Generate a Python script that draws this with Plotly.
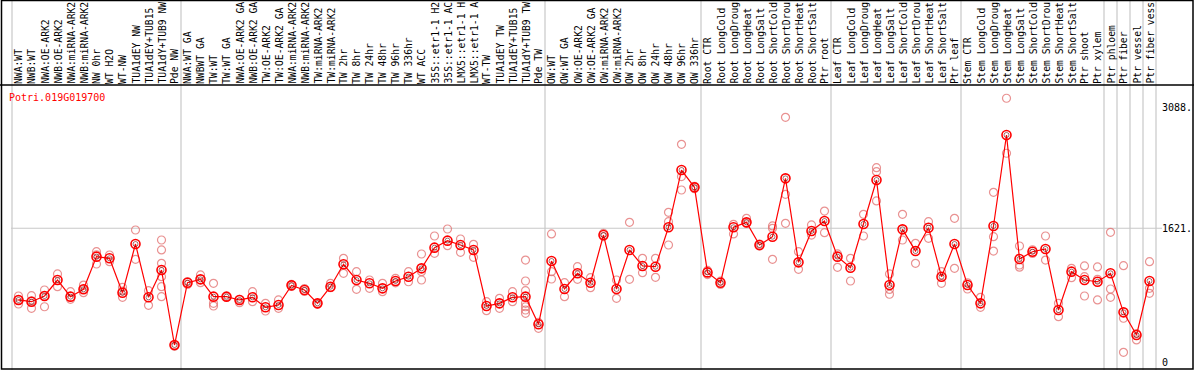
import plotly.graph_objects as go

title = "Potri.019G019700"

categories = [
    "NWA:WT", "NWB:WT", "NWA:OE-ARK2", "NWB:OE-ARK2", "NWA:miRNA-ARK2", "NWB:miRNA-ARK2",
    "NW 0hr", "WT H2O", "WT-NW", "TUA1dEY NW", "TUA1dEY+TUB15 NW", "TUA1dY+TUB9 NW", "Pde NW",
    "NWA:WT GA", "NWBWT GA", "TW:WT", "TW:WT GA", "NWA:OE-ARK2 GA", "NWB:OE-ARK2 GA",
    "TW:OE-ARK2", "TW:OE-ARK2 GA", "NWA:miRNA-ARK2 GA", "NWB:miRNA-ARK2 GA", "TW:miRNA-ARK2",
    "TW:miRNA-ARK2 GA", "TW 2hr", "TW 8hr", "TW 24hr", "TW 48hr", "TW 96hr", "TW 336hr",
    "WT ACC", "35S::etr1-1 H2O", "35S::etr1-1 ACC", "LMX5::etr1-1 H2O", "LMX5::etr1-1 ACC",
    "WT-TW", "TUA1dEY TW", "TUA1dEY+TUB15 TW", "TUA1dY+TUB9 TW", "Pde TW",
    "OW:WT", "OW:WT GA", "OW:OE-ARK2", "OW:OE-ARK2 GA", "OW:miRNA-ARK2", "OW:miRNA-ARK2 GA",
    "OW 2hr", "OW 8hr", "OW 24hr", "OW 48hr", "OW 96hr", "OW 336hr",
    "Root CTR", "Root LongCold", "Root LongDrought", "Root LongHeat", "Root LongSalt",
    "Root ShortCold", "Root ShortDrought", "Root ShortHeat", "Root ShortSalt", "Ptr root",
    "Leaf CTR", "Leaf LongCold", "Leaf LongDrought", "Leaf LongHeat", "Leaf LongSalt",
    "Leaf ShortCold", "Leaf ShortDrought", "Leaf ShortHeat", "Leaf ShortSalt", "Ptr leaf",
    "Stem CTR", "Stem LongCold", "Stem LongDrought", "Stem LongHeat", "Stem LongSalt",
    "Stem ShortCold", "Stem ShortDrought", "Stem ShortHeat", "Stem ShortSalt",
    "Ptr shoot", "Ptr xylem", "Ptr phloem", "Ptr fiber", "Ptr vessel", "Ptr fiber vessel",
]

means = [
    752, 731, 800, 994, 792, 881, 1277, 1257, 840, 1430, 784, 1115, 206,
    961, 1002, 792, 792, 752, 784, 663, 691, 929, 873, 711, 913, 1184, 994, 954, 893,
    982, 1034, 1135, 1386, 1471, 1418, 1358, 679, 711, 784, 792, 457,
    1224, 885, 1075, 961, 1539, 885, 1358, 1164, 1155, 1633, 2327, 2117,
    1086, 961, 1633, 1693, 1418, 1519, 2226, 1208, 1588, 1709,
    1277, 1143, 1673, 2206, 933, 1608, 1345, 1628, 1034, 1430,
    933, 711, 1649, 2752, 1249, 1337, 1370, 630, 1095, 994, 973, 1075, 602, 327, 982,
]

replicates = [
    [800, 703, 752], [804, 651, 740], [873, 670, 800], [1067, 913], [852, 760],
    [933, 840, 881], [1337, 1188, 1300], [1297, 1216], [905, 784, 860], [1600, 1245],
    [864, 687], [1479, 1358, 1196, 1034, 913, 792], [206, 190],
    [940, 975], [1055, 961], [954, 711, 679], [792, 792], [760, 719], [852, 731],
    [711, 618], [752, 651], [940, 915], [890, 855], [711, 700], [954, 900],
    [1257, 1075], [1095, 881], [994, 893], [954, 852], [1014, 960], [1095, 973],
    [1309, 994, 1095], [1527, 1317], [1612, 1410], [1491, 1329], [1426, 1269],
    [731, 622], [772, 651], [852, 731], [1236, 982, 864, 711, 670, 630, 590], [480, 408],
    [1552, 1095, 1006], [961, 792], [1155, 1002], [1022, 901], [1560, 1520], [994, 772],
    [1693, 1002], [1257, 1083], [1257, 1026], [1814, 1701, 1418], [2639, 2247, 2085],
    [2100, 2130],
    [1110, 1060], [980, 940], [1669, 1552], [1742, 1680], [1430, 1405],
    [1649, 1245, 1620], [2966, 2033, 1681], [1337, 1123], [1661, 1539], [1830, 1568],
    [1310, 1148], [1257, 982], [1790, 1527], [2356, 2307, 1952], [1067, 821, 880],
    [1790, 1479], [1438, 1196], [1701, 1499], [1095, 954], [1742, 1135],
    [960, 885], [784, 663], [2057, 1519, 1345], [3197, 2530], [1406, 1176, 1150],
    [1360, 1315], [1527, 1236], [711, 549], [1135, 1022],
    [1164, 1034, 800], [1152, 1002, 752], [1572, 885, 784], [1167, 530, 117],
    [345, 267], [1216, 893, 833],
]

group_bounds = [0, 13, 41, 53, 63, 73, 84, 85, 86, 87, 88]
y_ticks = [3088, 1621, 0]
y_tick_text = ["3088.", "1621.", "0"]

W, H = 1194, 370
FONT = "DejaVu Sans Mono"
LABEL_CHARS = 14  # the header strip only has room for this many characters
n = len(categories)
xs = list(range(n))

# axis ranges chosen so category i sits at pixel 18.5 + 13*i
x0_val = -18.5 / 13.0
x1_val = (W - 18.5) / 13.0
py_per_unit = 0.0825
y_zero_px = 362.0
y_lo = -(H - y_zero_px) / py_per_unit
y_hi = y_zero_px / py_per_unit

rx, ry = [], []
for i, reps in enumerate(replicates):
    for v in reps:
        rx.append(i)
        ry.append(v)

fig = go.Figure()
fig.add_trace(go.Scatter(
    x=rx, y=ry, mode="markers",
    marker=dict(symbol="circle-open", size=8, color="rgba(225,110,110,0.75)",
                line=dict(width=1.2)),
    hoverinfo="skip", showlegend=False,
))
fig.add_trace(go.Scatter(
    x=xs, y=means, mode="lines+markers",
    line=dict(color="#ff0000", width=1.2),
    marker=dict(symbol="circle-open", size=9, color="#ff0000", line=dict(width=1.6)),
    showlegend=False,
))
fig.add_trace(go.Scatter(
    x=xs, y=means, mode="markers",
    marker=dict(symbol="circle-open", size=5, color="rgba(90,0,0,0.7)", line=dict(width=0.8)),
    hoverinfo="skip", showlegend=False,
))

shapes = []
for b in group_bounds:
    xv = b - 0.5
    shapes.append(dict(type="line", xref="x", yref="paper", x0=xv, x1=xv, y0=0, y1=1,
                       line=dict(color="#c8c8c8", width=1.2), layer="below"))
shapes.append(dict(type="line", xref="paper", yref="y", x0=11 / W, x1=1162 / W,
                   y0=1621, y1=1621, line=dict(color="#c8c8c8", width=1.2), layer="below"))
ydiv = 1 - 85 / H
shapes.append(dict(type="line", xref="paper", yref="paper", x0=0, x1=1, y0=ydiv, y1=ydiv,
                   line=dict(color="black", width=1.5)))
shapes.append(dict(type="rect", xref="paper", yref="paper", x0=1.5 / W, x1=1 - 1 / W,
                   y0=1 / H, y1=1 - 0.5 / H, line=dict(color="black", width=1.5)))

annotations = []
ylab = 1 - 84 / H
for i, c in enumerate(categories):
    annotations.append(dict(
        x=i, xref="x", y=ylab, yref="paper", text=c[:LABEL_CHARS], textangle=-90,
        showarrow=False, xanchor="center", yanchor="bottom",
        font=dict(family=FONT, size=9.7, color="black"), borderpad=0, borderwidth=0,
    ))
annotations.append(dict(
    x=9 / W, xref="paper", y=1 - 97 / H, yref="paper", text=title, showarrow=False,
    xanchor="left", yanchor="middle", font=dict(family=FONT, size=10, color="#ff0000"),
    borderpad=0, borderwidth=0,
))
for v, t in zip(y_ticks, y_tick_text):
    annotations.append(dict(
        x=1162 / W, xref="paper", y=v, yref="y", text=t, showarrow=False,
        xanchor="left", yanchor="middle", font=dict(family=FONT, size=10, color="black"),
        borderpad=0, borderwidth=0,
    ))

fig.update_layout(
    width=W, height=H, margin=dict(l=0, r=0, t=0, b=0),
    paper_bgcolor="white", plot_bgcolor="white",
    xaxis=dict(range=[x0_val, x1_val], visible=False, fixedrange=True),
    yaxis=dict(range=[y_lo, y_hi], visible=False, fixedrange=True),
    shapes=shapes, annotations=annotations, showlegend=False,
)

fig.write_html(
    "out.html",
    config={"displayModeBar": False},
    post_script="document.body.style.margin='0';document.body.style.overflow='hidden';",
)
